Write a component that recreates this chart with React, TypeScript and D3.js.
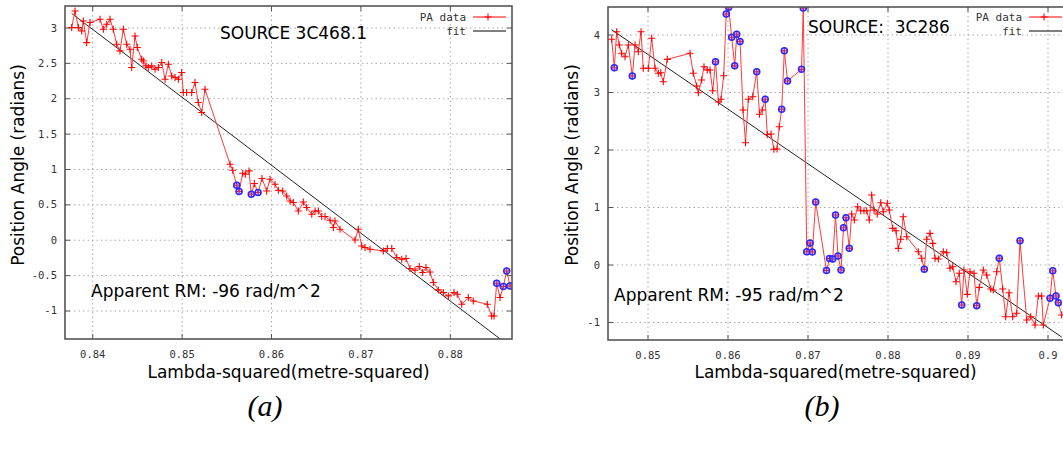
import * as d3 from "d3";

// ---- panel (a): SOURCE 3C468.1 ----
const lambdaA = [
  0.83765, 0.83802, 0.83839, 0.83877, 0.83895, 0.83933, 0.8397, 0.84082, 0.84119, 0.84157,
  0.84193, 0.8423, 0.84268, 0.84305, 0.84342, 0.8438, 0.84417, 0.84436, 0.84473, 0.84499,
  0.84548, 0.84566, 0.84596, 0.84622, 0.8466, 0.84697, 0.84734, 0.84772, 0.84809, 0.84846,
  0.84884, 0.84921, 0.84958, 0.84995, 0.85013, 0.85051, 0.85107, 0.85144, 0.85181, 0.85219,
  0.85256, 0.85536, 0.85566, 0.85611, 0.85637, 0.85678, 0.85707, 0.85748, 0.85774, 0.85808,
  0.85849, 0.85894, 0.85946, 0.85983, 0.86039, 0.86076, 0.86125, 0.8617, 0.86207, 0.86244,
  0.863, 0.86356, 0.86394, 0.8645, 0.86487, 0.86524, 0.86562, 0.86599, 0.86655, 0.86692,
  0.8671, 0.86766, 0.86934, 0.86971, 0.87009, 0.87046, 0.87102, 0.87251, 0.87296, 0.87345,
  0.87401, 0.87457, 0.87505, 0.87549, 0.87605, 0.87653, 0.87691, 0.87728, 0.87773, 0.8781,
  0.87866, 0.87922, 0.87978, 0.88041, 0.88078, 0.88128, 0.88201, 0.88257, 0.88414, 0.88463,
  0.88489, 0.88519, 0.88556, 0.88593, 0.88631, 0.88668,
];
const paA = [
  3.006, 3.241, 3.006, 2.958, 3.1, 2.794, 3.077, 3.124, 2.982, 3.053,
  3.124, 2.982, 2.77, 2.676, 2.982, 2.77, 2.7, 2.441, 2.888, 2.724,
  2.558, 2.534, 2.464, 2.441, 2.464, 2.417, 2.441, 2.512, 2.276, 2.488,
  2.322, 2.3, 2.276, 2.37, 2.088, 2.088, 2.088, 2.229, 1.946, 1.805,
  2.134, 1.074, 0.989, 0.777, 0.688, 0.947, 0.933, 0.98, 0.65, 0.801,
  0.674, 0.872, 0.697, 0.862, 0.792, 0.707, 0.697, 0.626, 0.555, 0.533,
  0.414, 0.541, 0.462, 0.367, 0.414, 0.414, 0.335, 0.335, 0.283, 0.18,
  0.273, 0.155, 0.004, 0.155, -0.081, -0.103, -0.127, -0.151, -0.117, -0.117,
  -0.245, -0.269, -0.259, -0.4, -0.424, -0.372, -0.457, -0.386, -0.448, -0.598,
  -0.702, -0.739, -0.787, -0.739, -0.763, -0.905, -0.81, -0.858, -0.905, -1.07,
  -1.07, -0.608, -0.81, -0.654, -0.434, -0.646,
];
const flaggedA = [43, 44, 48, 50, 101, 103, 104, 105];
const fitA = [83.62, -96]; // intercept, slope

const xTicksA = [0.84, 0.85, 0.86, 0.87, 0.88];
const xTickLabelsA = ["0.84", "0.85", "0.86", "0.87", "0.88"];
const yTicksA = [-1, -0.5, 0, 0.5, 1, 1.5, 2, 2.5, 3];
const yTickLabelsA = ["-1", "-0.5", "0", "0.5", "1", "1.5", "2", "2.5", "3"];

// ---- panel (b): SOURCE 3C286 ----
const lambdaB = [
  0.84546, 0.84579, 0.84609, 0.84641, 0.84671, 0.84713, 0.84754, 0.84804, 0.84838, 0.84879,
  0.84913, 0.84941, 0.85004, 0.85046, 0.85088, 0.85129, 0.85159, 0.85191, 0.85241, 0.85525,
  0.85566, 0.85609, 0.85629, 0.85671, 0.857, 0.85741, 0.85775, 0.85809, 0.85844, 0.85881,
  0.85913, 0.85946, 0.85978, 0.86009, 0.86046, 0.86084, 0.86109, 0.8615, 0.86188, 0.86219,
  0.86254, 0.86309, 0.86359, 0.86394, 0.86428, 0.86465, 0.86491, 0.86538, 0.86573, 0.86613,
  0.86641, 0.86671, 0.86704, 0.86744, 0.86919, 0.86941, 0.86984, 0.87025, 0.87054, 0.87096,
  0.87231, 0.87269, 0.87309, 0.87344, 0.87375, 0.87413, 0.87444, 0.87475, 0.87516, 0.87546,
  0.87579, 0.87621, 0.87659, 0.877, 0.87734, 0.87766, 0.87796, 0.87825, 0.87866, 0.87909,
  0.87941, 0.87991, 0.88016, 0.88059, 0.881, 0.88129, 0.88159, 0.88191, 0.88234, 0.88379,
  0.88421, 0.88454, 0.88484, 0.88525, 0.88559, 0.88588, 0.88629, 0.88691, 0.88734, 0.88775,
  0.88809, 0.8885, 0.88891, 0.88921, 0.8895, 0.88991, 0.89025, 0.89075, 0.89109, 0.89141,
  0.89191, 0.89234, 0.89284, 0.89316, 0.89359, 0.89391, 0.89434, 0.89471, 0.89513, 0.89559,
  0.89609, 0.8965, 0.89734, 0.89784, 0.89838, 0.89879, 0.89921, 0.89941, 0.90025, 0.90059,
  0.901, 0.90129, 0.90171,
];
const paB = [
  3.925, 3.431, 4.057, 3.826, 3.682, 3.623, 3.826, 3.287, 3.826, 3.71,
  4.057, 3.421, 3.421, 3.943, 3.421, 3.334, 3.344, 3.188, 3.577, 3.682,
  3.334, 3.113, 2.997, 3.217, 3.449, 3.391, 3.391, 3.031, 3.536, 2.835,
  2.882, 3.292, 4.365, 4.482, 3.96, 3.464, 4.012, 3.887, 2.696, 2.127,
  2.882, 2.927, 3.362, 2.621, 2.696, 2.882, 2.27, 2.278, 2.012, 2.017,
  2.405, 2.708, 3.727, 3.2, 3.403, 4.47, 0.231, 0.383, 0.226, 1.096,
  -0.096, 0.113, 0.104, 0.87, 0.157, -0.087, 0.649, 0.823, 0.29, 0.887,
  0.783, 1.014, 0.944, 0.944, 0.944, 0.783, 1.217, 0.957, 0.887, 1.083,
  0.927, 1.073, 0.957, 0.638, 0.597, 0.29, 0.447, 0.84, 0.492, 0.231,
  0.117, -0.075, 0.447, 0.551, 0.377, 0.117, 0.104, 0.231, 0.214, -0.057,
  -0.03, -0.29, -0.144, -0.696, -0.087, -0.51, -0.117, -0.144, -0.708, -0.388,
  -0.087, -0.174, -0.417, -0.435, -0.117, 0.117, -0.417, -0.899, -0.482, -0.899,
  -0.84, 0.423, -0.957, -0.899, -1.043, -0.539, -0.539, -1.043, -0.579, -0.099,
  -0.539, -0.656, -0.87,
];
const flaggedB = [
  1, 7, 28, 32, 33, 34, 35, 36, 37, 42, 45, 51, 52, 53, 54, 55, 56, 57, 58, 59, 60, 61, 62,
  63, 64, 65, 66, 67, 68, 91, 103, 108, 115, 121, 128, 129, 130, 131,
];
const fitB = [84.41, -95];

const xTicksB = [0.85, 0.86, 0.87, 0.88, 0.89, 0.9];
const xTickLabelsB = ["0.85", "0.86", "0.87", "0.88", "0.89", "0.9"];
const yTicksB = [-1, 0, 1, 2, 3, 4];
const yTickLabelsB = ["-1", "0", "1", "2", "3", "4"];

const RED = "#ff0000";
const SANS = "'DejaVu Sans', Verdana, sans-serif";
const MONO = "'DejaVu Sans Mono', monospace";

function Plus({ cx, cy, s = 3.5 }) {
  return (
    <path
      d={`M${cx - s},${cy}H${cx + s}M${cx},${cy - s}V${cy + s}`}
      stroke={RED}
      strokeWidth={1.1}
    />
  );
}

function Panel(props) {
  const { id, left, right, top, bottom, xDomain, yDomain } = props;
  const x = d3.scaleLinear().domain(xDomain).range([left, right]);
  const y = d3.scaleLinear().domain(yDomain).range([bottom, top]);

  const pts = props.lambda.map((l, i) => [l, props.pa[i]]);
  const line = d3
    .line()
    .x((d) => x(d[0]))
    .y((d) => y(d[1]));
  const fitPts = d3.extent(props.lambda).map((l) => [l, props.fit[0] + props.fit[1] * l]);

  const tickLen = 5;
  const w = props.width;

  return (
    <g>
      <defs>
        <clipPath id={id}>
          <rect x={left} y={top} width={right - left} height={bottom - top} />
        </clipPath>
      </defs>

      {/* grid */}
      <g stroke="#a8a8a8" strokeWidth={1} strokeDasharray="1.5,3">
        {props.xTicks.map((t) => (
          <line key={"gx" + t} x1={x(t)} x2={x(t)} y1={top} y2={bottom} />
        ))}
        {props.yTicks.map((t) => (
          <line key={"gy" + t} x1={left} x2={Math.min(right, w)} y1={y(t)} y2={y(t)} />
        ))}
      </g>

      {/* ticks (inward, mirrored) */}
      <g stroke="#555" strokeWidth={1}>
        {props.xTicks.map((t) => (
          <g key={"tx" + t}>
            <line x1={x(t)} x2={x(t)} y1={bottom} y2={bottom - tickLen} />
            <line x1={x(t)} x2={x(t)} y1={top} y2={top + tickLen} />
          </g>
        ))}
        {props.yTicks.map((t) => (
          <g key={"ty" + t}>
            <line x1={left} x2={left + tickLen} y1={y(t)} y2={y(t)} />
            <line x1={right} x2={right - tickLen} y1={y(t)} y2={y(t)} />
          </g>
        ))}
      </g>

      {/* tick labels */}
      <g fontFamily={MONO} fontSize={10.5} fill="#333">
        {props.xTicks.map((t, i) => (
          <text key={"lx" + t} x={x(t)} y={bottom + 19} textAnchor="middle">
            {props.xTickLabels[i]}
          </text>
        ))}
        {props.yTicks.map((t, i) => (
          <text key={"ly" + t} x={left - 8} y={y(t) + 3.5} textAnchor="end">
            {props.yTickLabels[i]}
          </text>
        ))}
      </g>

      {/* data, fit */}
      <g clipPath={`url(#${id})`}>
        <path d={line(fitPts)} fill="none" stroke="#222" strokeWidth={1} />
        <path d={line(pts)} fill="none" stroke="#ff3a3a" strokeWidth={1} />
        {pts.map((d, i) => (
          <Plus key={"p" + i} cx={x(d[0])} cy={y(d[1])} />
        ))}
        {props.flagged.map((i) => (
          <circle
            key={"f" + i}
            cx={x(pts[i][0])}
            cy={y(pts[i][1])}
            r={3}
            fill="rgba(140,90,255,0.35)"
            stroke="#2a2aff"
            strokeWidth={1.5}
          />
        ))}
      </g>

      {/* frame */}
      <rect
        x={left}
        y={top}
        width={right - left}
        height={bottom - top}
        fill="none"
        stroke="#555"
        strokeWidth={1.6}
      />

      {/* legend */}
      <g fontFamily={MONO} fontSize={11} fill="#333">
        <text x={props.legendX} y={21} textAnchor="end">PA data</text>
        <text x={props.legendX} y={35} textAnchor="end">fit</text>
      </g>
      <line x1={props.legendX + 7} x2={props.legendX + 40} y1={17} y2={17} stroke={RED} strokeWidth={1} />
      <Plus cx={props.legendX + 22} cy={17} />
      <line x1={props.legendX + 7} x2={props.legendX + 40} y1={31} y2={31} stroke="#000" strokeWidth={1} />

      {/* annotations */}
      <g fontFamily={SANS} fontSize={17} fill="#000">
        <text x={props.sourceX} y={props.sourceY} style={{ whiteSpace: "pre" }}>
          {props.source}
        </text>
        <text x={props.rmX} y={props.rmY}>{props.rm}</text>
        <text x={(left + Math.min(right, w)) / 2 + props.xTitleShift} y={378} textAnchor="middle">
          Lambda-squared(metre-squared)
        </text>
        <text
          transform={`translate(${props.yTitleX},${165}) rotate(-90)`}
          textAnchor="middle"
        >
          Position Angle (radians)
        </text>
      </g>

      {/* caption */}
      <text
        x={props.captionX}
        y={416}
        textAnchor="middle"
        fontFamily="'Liberation Serif', 'DejaVu Serif', serif"
        fontStyle="italic"
        fontSize={30}
      >
        {props.caption}
      </text>
    </g>
  );
}

export default function App() {
  const width = 1063;
  const height = 451;
  return (
    <svg
      width={width}
      height={height}
      style={{ position: "absolute", left: 0, top: 0, background: "#fff" }}
    >
      <rect width={width} height={height} fill="#fff" />
      <Panel
        id="clipA"
        width={width}
        left={65}
        right={512}
        top={6}
        bottom={339}
        xDomain={[0.8369, 0.8869]}
        yDomain={[-1.396, 3.311]}
        lambda={lambdaA}
        pa={paA}
        flagged={flaggedA}
        fit={fitA}
        xTicks={xTicksA}
        xTickLabels={xTickLabelsA}
        yTicks={yTicksA}
        yTickLabels={yTickLabelsA}
        legendX={466}
        source="SOURCE 3C468.1"
        sourceX={220}
        sourceY={39}
        rm="Apparent RM: -96 rad/m^2"
        rmX={91}
        rmY={297}
        xTitleShift={0}
        yTitleX={24}
        caption="(a)"
        captionX={265}
      />
      <Panel
        id="clipB"
        width={width}
        left={608}
        right={1068}
        top={7}
        bottom={340}
        xDomain={[0.845, 0.9025]}
        yDomain={[-1.304, 4.487]}
        lambda={lambdaB}
        pa={paB}
        flagged={flaggedB}
        fit={fitB}
        xTicks={xTicksB}
        xTickLabels={xTickLabelsB}
        yTicks={yTicksB}
        yTickLabels={yTickLabelsB}
        legendX={1022}
        source="SOURCE:  3C286"
        sourceX={808}
        sourceY={33}
        rm="Apparent RM: -95 rad/m^2"
        rmX={614}
        rmY={301}
        xTitleShift={0}
        yTitleX={578}
        caption="(b)"
        captionX={822}
      />
    </svg>
  );
}
